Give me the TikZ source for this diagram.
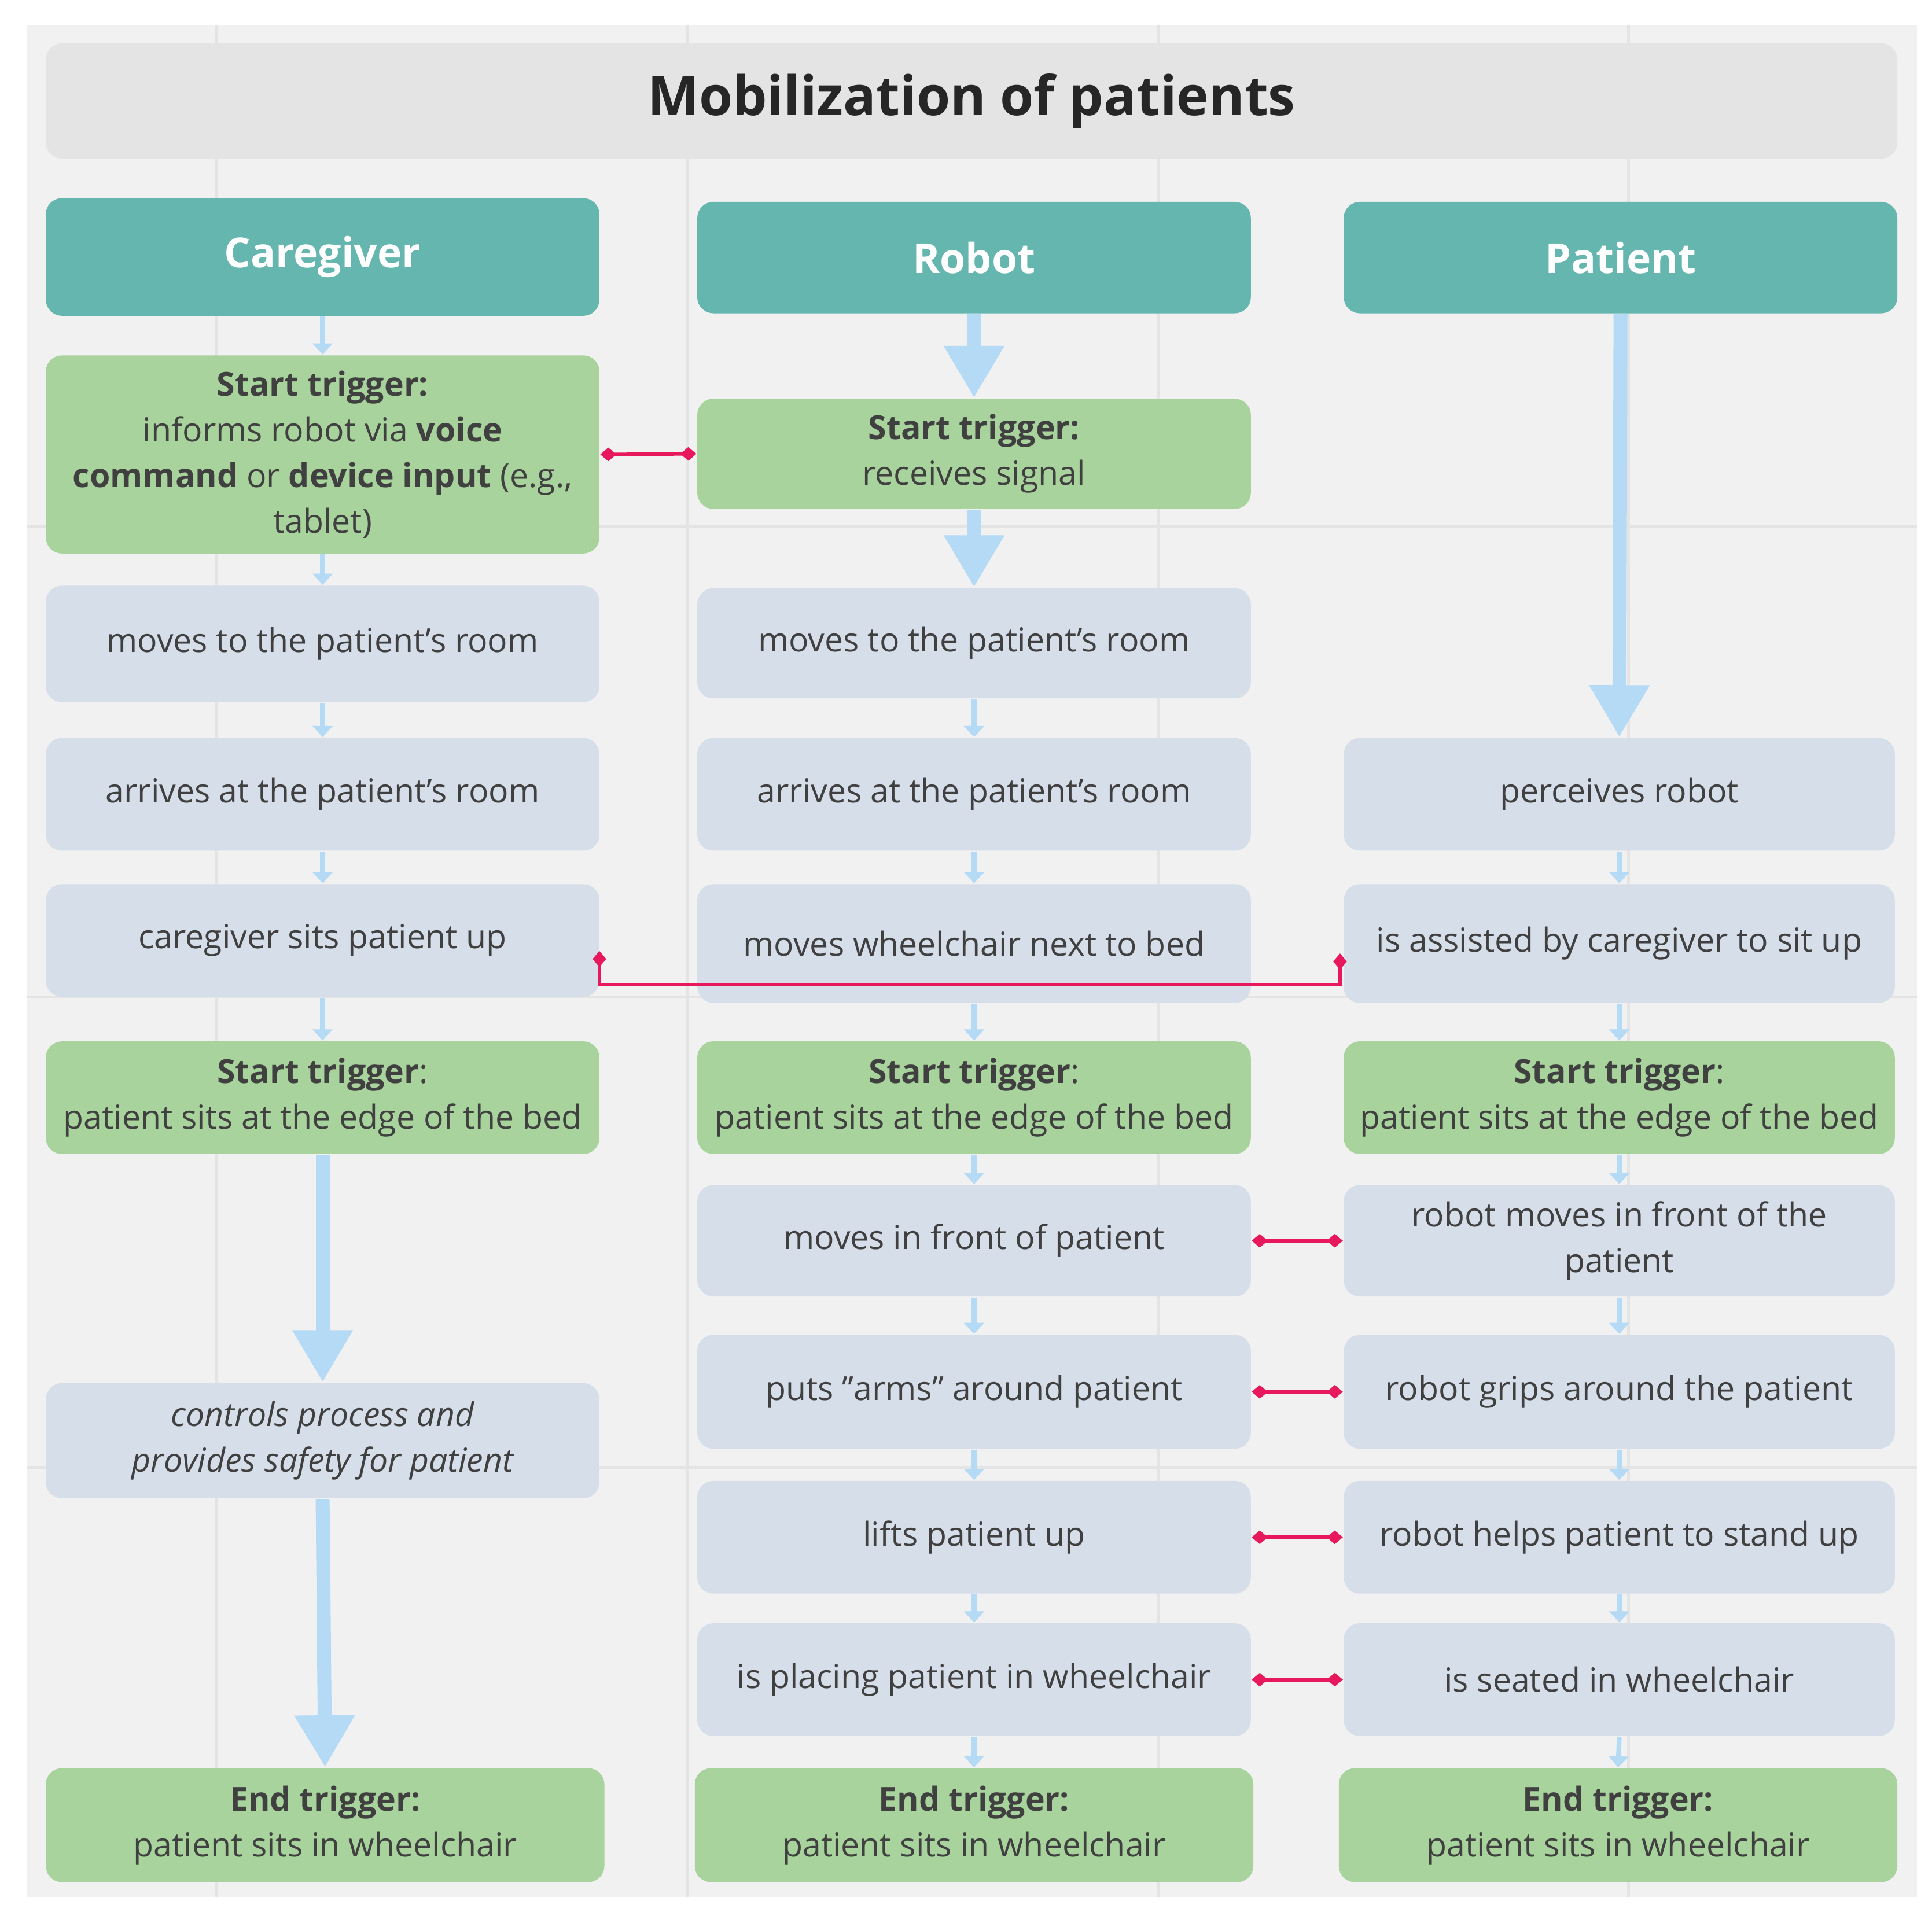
\documentclass[tikz,border=0pt]{standalone}
\usepackage{fontspec}
\setmainfont{Open Sans}
\usetikzlibrary{arrows.meta}
\definecolor{bg}{HTML}{F1F1F1}
\definecolor{grid}{HTML}{E4E4E4}
\definecolor{titlebg}{HTML}{E4E4E4}
\definecolor{teal}{HTML}{66B6B0}
\definecolor{grn}{HTML}{A8D39C}
\definecolor{blu}{HTML}{D6DEEA}
\definecolor{arr}{HTML}{B5DAF5}
\definecolor{red}{HTML}{E8185C}
\definecolor{txt}{HTML}{404040}
\tikzset{
 x=0.01cm,y=-0.01cm,
 base/.style={rounded corners=0.13cm,inner sep=0pt,align=center,text=txt,font=\fontsize{7.6}{10.5}\selectfont},
 hdr/.style={base,fill=teal,text=white,font=\fontsize{9.5}{11}\selectfont\bfseries},
 g/.style={base,fill=grn},
 b/.style={base,fill=blu},
 sa/.style={draw=arr,line width=1.1pt,-{Triangle[length=0.09cm,width=0.16cm]}},
 ba/.style={draw=arr,line width=3.2pt,-{Triangle[length=0.42cm,width=0.46cm]}},
 rc/.style={draw=red,line width=0.8pt,{Diamond[length=0.13cm,width=0.11cm]}-{Diamond[length=0.13cm,width=0.11cm]}},
}
\newcommand\bx[7]{\node[#1,minimum width={(#4-#3)*0.01cm},minimum height={(#6-#5)*0.01cm}] (#2) at ({(#3+#4)/2},{(#5+#6)/2}) {#7};}
\begin{document}
\begin{tikzpicture}
\useasboundingbox (0,0) rectangle (1560,1547);
\fill[white] (0,0) rectangle (1560,1547);
\fill[bg] (22,20) rectangle (1548,1532);
\foreach \gx in {175,555,935,1315}{\draw[grid,line width=0.6pt] (\gx,20)--(\gx,1532);}
\foreach \gy in {425,805,1185}{\draw[grid,line width=0.6pt] (22,\gy)--(1548,\gy);}
\bx{base,fill=titlebg,text=black!85,font=\fontsize{12.5}{14}\selectfont\bfseries}{title}{37}{1532}{35}{128}{Mobilization of patients}
% headers
\bx{hdr}{hc}{37}{484}{160}{255}{Caregiver}
\bx{hdr}{hr}{563}{1010}{163}{253}{Robot}
\bx{hdr}{hp}{1085}{1532}{163}{253}{Patient}
% caregiver
\bx{g}{c1}{37}{484}{287}{447}{\textbf{Start trigger:}\\informs robot via \textbf{voice}\\\textbf{command} or \textbf{device input} (e.g.,\\tablet)}
\bx{b}{c2}{37}{484}{473}{567}{moves to the patient's room}
\bx{b}{c3}{37}{484}{596}{687}{arrives at the patient's room}
\bx{b}{c4}{37}{484}{714}{805}{caregiver sits patient up}
\bx{g}{c5}{37}{484}{841}{932}{\textbf{Start trigger}:\\patient sits at the edge of the bed}
\bx{b}{c6}{37}{484}{1117}{1210}{\itshape controls process and\\\itshape provides safety for patient}
\bx{g}{c7}{37}{488}{1428}{1520}{\textbf{End trigger:}\\patient sits in wheelchair}
% robot
\bx{g}{r1}{563}{1010}{322}{411}{\textbf{Start trigger:}\\receives signal}
\bx{b}{r2}{563}{1010}{475}{564}{moves to the patient's room}
\bx{b}{r3}{563}{1010}{596}{687}{arrives at the patient's room}
\bx{b}{r4}{563}{1010}{714}{810}{moves wheelchair next to bed}
\bx{g}{r5}{563}{1010}{841}{932}{\textbf{Start trigger}:\\patient sits at the edge of the bed}
\bx{b}{r6}{563}{1010}{957}{1047}{moves in front of patient}
\bx{b}{r7}{563}{1010}{1078}{1170}{puts "arms" around patient}
\bx{b}{r8}{563}{1010}{1196}{1287}{lifts patient up}
\bx{b}{r9}{563}{1010}{1311}{1402}{is placing patient in wheelchair}
\bx{g}{r10}{561}{1012}{1428}{1520}{\textbf{End trigger:}\\patient sits in wheelchair}
% patient
\bx{b}{p3}{1085}{1530}{596}{687}{perceives robot}
\bx{b}{p4}{1085}{1530}{714}{810}{is assisted by caregiver to sit up}
\bx{g}{p5}{1085}{1530}{841}{932}{\textbf{Start trigger}:\\patient sits at the edge of the bed}
\bx{b}{p6}{1085}{1530}{957}{1047}{robot moves in front of the\\patient}
\bx{b}{p7}{1085}{1530}{1078}{1170}{robot grips around the patient}
\bx{b}{p8}{1085}{1530}{1196}{1287}{robot helps patient to stand up}
\bx{b}{p9}{1085}{1530}{1311}{1402}{is seated in wheelchair}
\bx{g}{p10}{1081}{1532}{1428}{1520}{\textbf{End trigger:}\\patient sits in wheelchair}
% small arrows
\foreach \a/\bb in {hc/c1,c1/c2,c2/c3,c3/c4,c4/c5,r2/r3,r3/r4,r4/r5,r5/r6,r6/r7,r7/r8,r8/r9,r9/r10,p3/p4,p4/p5,p5/p6,p6/p7,p7/p8,p8/p9,p9/p10}
 {\draw[sa] (\a.south) -- (\bb.north);}
% big arrows
\foreach \a/\bb in {hr/r1,r1/r2,hp/p3,c5/c6,c6/c7}
 {\draw[ba] (\a.south) -- (\bb.north);}
% red connectors
\draw[rc] (c1.east) -- (r1.west);
\draw[rc] (r6.east) -- (p6.west);
\draw[rc] (r7.east) -- (p7.west);
\draw[rc] (r8.east) -- (p8.west);
\draw[rc] (r9.east) -- (p9.west);
\coordinate (k1) at (484,795);
\coordinate (k2) at (1082,795);
\draw[rc] (484,768) -- (k1) -- (k2) -- (1082,770);
\end{tikzpicture}
\end{document}
